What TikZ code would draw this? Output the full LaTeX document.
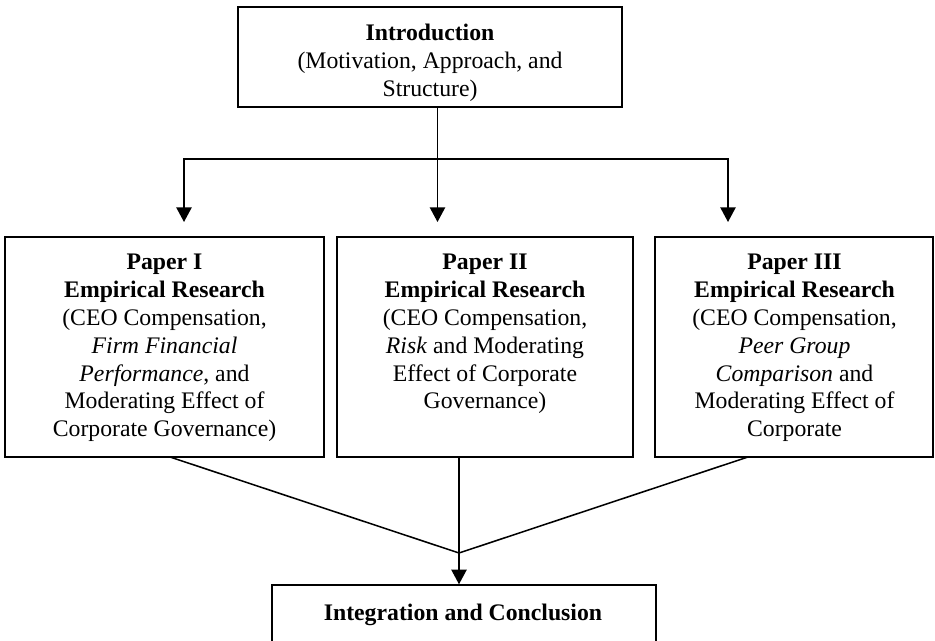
\documentclass[tikz,border=0pt]{standalone}
\usepackage{fontspec}
\setmainfont{Liberation Serif}
\usetikzlibrary{arrows.meta,fit,calc}
\begin{document}
\begin{tikzpicture}[x=0.75pt,y=-0.75pt,
  box/.style={draw=black, line width=1.1pt, inner sep=0pt},
  txt/.style={align=center, inner sep=0pt, font=\fontsize{17.8}{20.85}\selectfont},
  link/.style={line width=1.15pt},
  arr/.style={link, -{Triangle[length=11pt,width=11.5pt]}}]
\useasboundingbox (0,0) rectangle (935,641);
\clip (0,0) rectangle (935,641);

% boxes
\node[box, fit={(238,7) (622,107)}] (intro) {};
\node[box, fit={(5,237) (324,457)}] (p1) {};
\node[box, fit={(337,237) (633,457)}] (p2) {};
\node[box, fit={(655,237) (933,457)}] (p3) {};
\node[box, fit={(272,585) (656,700)}] (final) {};

% box texts
\node[txt, anchor=north] (introtxt) at (430,24)
  {\textbf{Introduction}\\(Motivation, Approach, and\\Structure)};
\node[txt, anchor=north] (p1txt) at (164.5,254)
  {\textbf{Paper I}\\\textbf{Empirical Research}\\(CEO Compensation,\\\textit{Firm Financial}\\\textit{Performance}, and\\Moderating Effect of\\Corporate Governance)};
\node[txt, anchor=north] (p2txt) at (485,254)
  {\textbf{Paper II}\\\textbf{Empirical Research}\\(CEO Compensation,\\\textit{Risk} and Moderating\\Effect of Corporate\\Governance)};
\node[txt, anchor=north] (p3txt) at (794.5,254)
  {\textbf{Paper III}\\\textbf{Empirical Research}\\(CEO Compensation,\\\textit{Peer Group}\\\textit{Comparison} and\\Moderating Effect of\\Corporate};
\node[txt, anchor=base] (finaltxt) at (463,620)
  {\textbf{Integration and Conclusion}};

% branching from the introduction
\coordinate (split) at (437.5,159);
\coordinate (hl) at (184,159);
\coordinate (hr) at (728,159);
\coordinate (tip) at (0,222);
\draw[link] (intro.south -| split) -- (split);
\draw[arr] (split) -| (hl |- tip);
\draw[arr] (split) -| (hr |- tip);
\draw[arr] (split) -- (split |- tip);

% merging into the conclusion
\coordinate (merge) at (459,553);
\coordinate (l1) at (170,457);
\coordinate (r1) at (748,457);
\draw[link] (l1) -- (merge) -- (r1);
\draw[arr] (p2.south -| merge) -- (final.north -| merge);
\end{tikzpicture}
\end{document}
